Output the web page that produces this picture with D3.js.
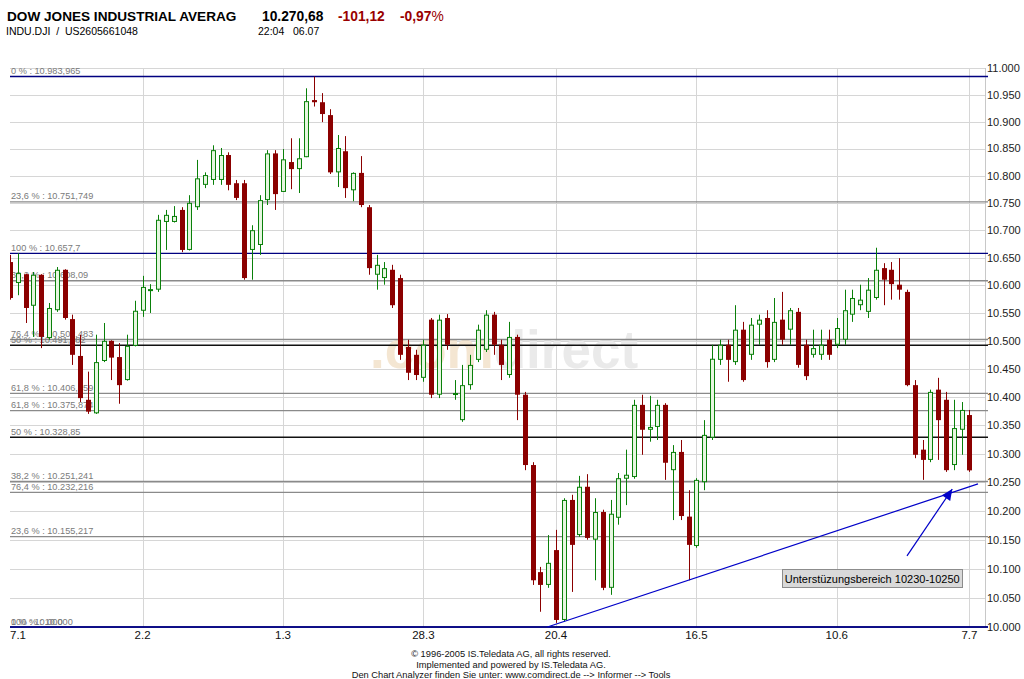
<!DOCTYPE html>
<html><head><meta charset="utf-8">
<script src="https://cdn.jsdelivr.net/npm/d3@7"></script>
<style>body{margin:0;background:#fff}svg{display:block}text{font-family:"Liberation Sans",Arial,sans-serif}.pre{white-space:pre}</style>
</head><body><svg id="c" width="1024" height="679"></svg>
<script>
// ---------- data ----------
const tickLabels = ["7.1","2.2","1.3","28.3","20.4","16.5","10.6","7.7"];
const tickIndex  = [0,17,35,53,70,88,106,123];
const open = [10642,10604,10620,10563,10619,10505,10555,10628,10539,10473,
 10395,10371,10464,10500,10471,10430,10491,10554,10590,10592,
 10715,10715,10737,10664,10742,10783,10792,10792,10838,10786,
 10786,10664,10673,10755,10841,10770,10825,10812,10834,10940,
 10936,10912,10806,10845,10773,10805,10742,10619,10613,10628,
 10613,10489,10475,10434,10538,10404,10541,10404,10359,10421,
 10466,10484,10547,10493,10439,10507,10404,10280,10094,10072,
 10132,10012,10219,10158,10242,10150,10198,10067,10188,10256,
 10259,10386,10342,10347,10386,10271,10303,10190,10139,10250,
 10328,10466,10493,10462,10520,10475,10529,10541,10466,10538,
 10520,10552,10493,10475,10475,10502,10493,10502,10547,10564,
 10552,10577,10631,10628,10601,10588,10421,10307,10289,10413,
 10395,10280,10342,10368];
const high = [10655,10658,10621,10624,10620,10568,10633,10629,10547,10511,
 10445,10511,10532,10501,10496,10511,10572,10617,10602,10728,
 10737,10744,10742,10764,10829,10806,10856,10851,10843,10792,
 10792,10709,10764,10847,10847,10849,10869,10869,10962,10983.965,
 10953,10923,10875,10873,10806,10836,10746,10655,10642,10637,
 10619,10502,10484,10502,10541,10547,10548,10430,10457,10475,
 10529,10555,10552,10502,10534,10511,10409,10285,10103,10158,
 10167,10222,10228,10261,10264,10222,10202,10219,10266,10307,
 10395,10404,10402,10395,10389,10315,10324,10236,10257,10359,
 10493,10502,10502,10564,10534,10541,10547,10555,10577,10588,
 10559,10559,10502,10520,10520,10520,10541,10592,10592,10601,
 10613,10668,10640,10642,10649,10592,10430,10324,10413,10434,
 10409,10395,10391,10377];
const low = [10574,10582,10532,10507,10487,10502,10552,10538,10457,10391,
 10370,10370,10462,10430,10388,10429,10490,10543,10550,10588,
 10664,10714,10660,10663,10737,10777,10783,10783,10773,10755,
 10610,10610,10655,10746,10737,10770,10775,10768,10834,10928,
 10899,10803,10779,10759,10753,10742,10619,10592,10601,10559,
 10466,10430,10430,10427,10398,10398,10484,10395,10356,10413,
 10462,10480,10475,10430,10434,10359,10271,10072,10026,10067,
 10007,10009,10060,10155,10150,10080,10063,10055,10176,10210,
 10256,10298,10321,10324,10254,10184,10184,10080,10136,10236,
 10324,10457,10427,10457,10427,10466,10493,10452,10462,10493,
 10493,10452,10430,10470,10466,10466,10487,10493,10534,10555,
 10541,10574,10564,10574,10574,10419,10292,10254,10285,10289,
 10268,10271,10298,10268];
const close = [10577,10622,10559,10619,10507,10559,10628,10541,10475,10398,
 10374,10462,10500,10470,10421,10491,10554,10597,10593,10719,
 10728,10726,10664,10750,10795,10801,10847,10838,10783,10759,
 10613,10700,10755,10841,10766,10830,10812,10832,10938,10936,
 10914,10806,10851,10777,10805,10746,10631,10637,10631,10564,
 10475,10443,10439,10493,10404,10538,10493,10407,10421,10457,
 10520,10547,10493,10457,10507,10404,10280,10080,10072,10110,
 10012,10219,10141,10242,10153,10198,10067,10195,10257,10263,
 10386,10342,10347,10386,10284,10303,10191,10141,10254,10333,
 10468,10493,10466,10520,10430,10529,10538,10462,10534,10502,
 10555,10457,10437,10487,10493,10475,10523,10555,10577,10574,
 10592,10628,10610,10602,10592,10421,10298,10289,10409,10359,
 10271,10345,10377,10270.68];
const yTickValues = d3.range(10000, 11001, 50);
const fibValues = [10983.965,10751.749,10657.7,10608.09,10502.483,10491.982,10406.459,10375.874,10328.85,10251.241,10232.216,10155.217,10000,10000];
const fibLabels = ["0 % : 10.983,965","23,6 % : 10.751,749","100 % : 10.657,7","38,2 % : 10.608,09","76,4 % : 10.502,483","50 % : 10.491,982","61,8 % : 10.406,459","61,8 % : 10.375,874","50 % : 10.328,85","38,2 % : 10.251,241","76,4 % : 10.232,216","23,6 % : 10.155,217","100 % : 10.000","0 % : 10.000"];
const fibKinds  = ["blue","gray","blue","gray","gray","black","gray","gray","black","gray","gray","gray","blue","blue"];
const trendLine = [[68.9,10000],[124.1,10247]];
const arrowLine = [[115.0,10122],[120.8,10238]];
const noteAnchor = [99,10099];
const noteText = "Unterstüzungsbereich 10230-10250";
const title = "DOW JONES INDUSTRIAL AVERAG", lastPrice = "10.270,68", change = "-101,12", changePct = "-0,97";
const subtitle = "INDU.DJI  /  US2605661048", stamp = "22:04   06.07";
const footer = ["© 1996-2005 IS.Teledata AG, all rights reserved.","Implemented and powered by IS.Teledata AG.","Den Chart Analyzer finden Sie unter: www.comdirect.de --> Informer --> Tools"];

// ---------- chart ----------
const svg = d3.select("#c");
svg.append("rect").attr("width",1024).attr("height",679).attr("fill","#fff");
const L = 10, R = 985, T = 68, B = 627;
const x = d3.scaleLinear().domain([0,123]).range([10,969.4]);
const y = d3.scaleLog().domain([10000,11000]).range([B,T]);
const fmtDE = d3.formatLocale({decimal:",",thousands:".",grouping:[3],currency:["","€"]});
const fmtAxis = fmtDE.format(",.3f");

svg.append("clipPath").attr("id","clip").append("rect").attr("x",L).attr("y",T-2).attr("width",R-L).attr("height",B-T+4);

// grid
const g = svg.append("g");
g.selectAll("line.h").data(yTickValues).join("line")
  .attr("x1",L).attr("x2",R).attr("y1",d=>Math.round(y(d))+0.5).attr("y2",d=>Math.round(y(d))+0.5)
  .attr("stroke","#d6d6d6").attr("stroke-width",1);
g.selectAll("line.v").data(tickIndex.slice(1)).join("line")
  .attr("x1",d=>Math.round(x(d))+0.5).attr("x2",d=>Math.round(x(d))+0.5).attr("y1",T).attr("y2",B)
  .attr("stroke","#d6d6d6");
g.append("line").attr("x1",R+0.5).attr("x2",R+0.5).attr("y1",T).attr("y2",B+1).attr("stroke","#c8c8c8");

// watermark
const wm = svg.append("text").attr("x",370).attr("y",368).attr("font-size",53).attr("font-weight","bold");
wm.append("tspan").text(".com").attr("fill","#f4e6d2");
wm.append("tspan").text("direct").attr("fill","#eaeaea");

// right axis
svg.append("g").selectAll("text").data(yTickValues).join("text")
  .attr("x",987).attr("y",d=>y(d)).attr("dy","0.36em").attr("font-size",11).attr("fill","#222")
  .text(d=>fmtAxis(d/1000).replace(/,/, "."));

// x axis labels
svg.append("g").selectAll("text").data(tickIndex).join("text")
  .attr("x",(d,i)=> i===0 ? L : x(d)).attr("y",639)
  .attr("text-anchor",(d,i)=> i===0 ? "start":"middle")
  .attr("font-size",11.5).attr("fill","#111").text((d,i)=>tickLabels[i]);

// fib lines
const fibColor = {blue:"#000080", gray:"#8a8a8a", black:"#111"};
const fg = svg.append("g");
fg.selectAll("line").data(fibValues).join("line")
  .attr("x1",L).attr("x2",988).attr("y1",d=>y(d)).attr("y2",d=>y(d))
  .attr("stroke",(d,i)=>fibColor[fibKinds[i]]).attr("stroke-width",1.4);
fg.selectAll("text").data(fibValues).join("text")
  .attr("x",11).attr("y",d=>y(d)-2.5).attr("font-size",9.2).attr("fill","#7a7a7a")
  .text((d,i)=>fibLabels[i]);

// candles
const idx = d3.range(open.length);
const cg = svg.append("g").attr("clip-path","url(#clip)");
const up = i => close[i] >= open[i];
cg.selectAll("line").data(idx).join("line")
  .attr("x1",i=>Math.round(x(i))+0.5).attr("x2",i=>Math.round(x(i))+0.5)
  .attr("y1",i=>y(high[i])).attr("y2",i=>y(low[i]))
  .attr("stroke",i=>up(i)?"#0a800a":"#8b0000");
cg.selectAll("rect").data(idx).join("rect")
  .attr("x",i=>up(i)? Math.round(x(i))-1.5 : Math.round(x(i))-2)
  .attr("width",i=>up(i)?4:5)
  .attr("y",i=>y(Math.max(open[i],close[i])) + (up(i)?0.5:0))
  .attr("height",i=>Math.max(1, Math.abs(y(open[i])-y(close[i])) - (up(i)?1:0)))
  .attr("fill",i=>up(i)?"#e6f6e0":"#8b0000")
  .attr("stroke",i=>up(i)?"#0a800a":"none").attr("stroke-width",1);

// trend + arrow
const pt = d => [x(d[0]), y(d[1])];
svg.append("line").attr("x1",pt(trendLine[0])[0]).attr("y1",pt(trendLine[0])[1])
  .attr("x2",pt(trendLine[1])[0]).attr("y2",pt(trendLine[1])[1]).attr("stroke","#0000c8").attr("stroke-width",1.2);
const a0 = pt(arrowLine[0]), a1 = pt(arrowLine[1]);
svg.append("line").attr("x1",a0[0]).attr("y1",a0[1]).attr("x2",a1[0]).attr("y2",a1[1]).attr("stroke","#0000c8").attr("stroke-width",1.2);
const ang = Math.atan2(a1[1]-a0[1], a1[0]-a0[0]);
const hl = 11, hw = 5;
const bx = a1[0]-hl*Math.cos(ang), by = a1[1]-hl*Math.sin(ang);
svg.append("path").attr("d",`M${a1[0]},${a1[1]}L${bx+hw*Math.sin(ang)},${by-hw*Math.cos(ang)}L${bx-hw*Math.sin(ang)},${by+hw*Math.cos(ang)}Z`).attr("fill","#0000c8");

// note box
const nb = pt(noteAnchor);
svg.append("rect").attr("x",Math.round(nb[0])+0.5).attr("y",Math.round(nb[1])+0.5).attr("width",180).attr("height",18)
  .attr("fill","#d9d9d9").attr("stroke","#8c8c8c");
svg.append("text").attr("x",nb[0]+90).attr("y",nb[1]+13.5).attr("text-anchor","middle").attr("font-size",11).attr("fill","#000").text(noteText);

// header
svg.append("text").attr("x",7).attr("y",21).attr("font-size",13.6).attr("font-weight","bold").text(title);
svg.append("text").attr("x",262).attr("y",21).attr("font-size",13.8).attr("font-weight","bold").text(lastPrice);
svg.append("text").attr("x",338).attr("y",21).attr("font-size",13.8).attr("font-weight","bold").attr("fill","#990000").text(change);
const pc = svg.append("text").attr("x",400).attr("y",21).attr("font-size",13.8).attr("fill","#990000");
pc.append("tspan").attr("font-weight","bold").text(changePct);
pc.append("tspan").text("%");
svg.append("text").attr("class","pre").attr("x",6).attr("y",35).attr("font-size",10.5).text(subtitle);
svg.append("text").attr("class","pre").attr("x",258).attr("y",35).attr("font-size",10.5).text(stamp);

// footer
svg.append("g").selectAll("text").data(footer).join("text")
  .attr("x",511).attr("y",(d,i)=>657+i*10.5).attr("text-anchor","middle").attr("font-size",9.3).attr("fill","#111").text(d=>d);
</script></body></html>
